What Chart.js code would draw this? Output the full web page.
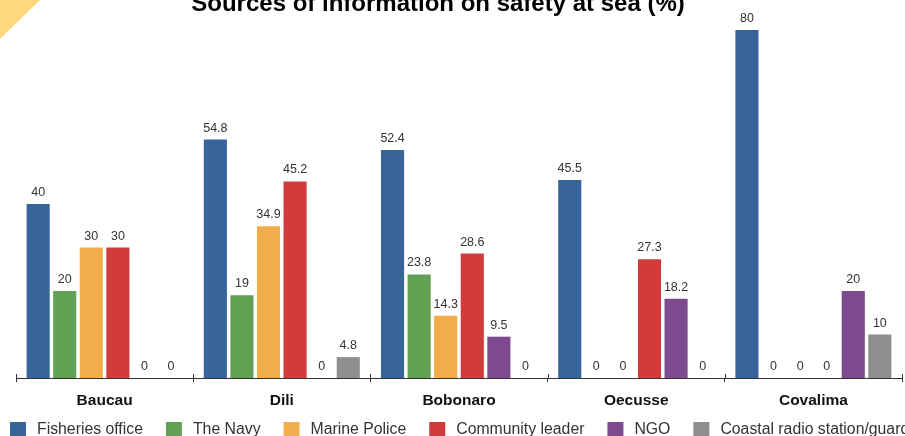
<!DOCTYPE html>
<html>
<head>
<meta charset="utf-8">
<script src="https://cdn.jsdelivr.net/npm/chart.js@4/dist/chart.umd.min.js"></script>
<style>
  html, body { margin: 0; padding: 0; background: #ffffff; overflow: hidden; }
  canvas { display: block; }
</style>
</head>
<body>
<canvas id="chart" width="905" height="436"></canvas>
<script>
// Districts and the share (%) citing each source of safety-at-sea information
const districts = ['Baucau', 'Dili', 'Bobonaro', 'Oecusse', 'Covalima'];
const fisheriesOffice = [40, 54.8, 52.4, 45.5, 80];
const theNavy = [20, 19, 23.8, 0, 0];
const marinePolice = [30, 34.9, 14.3, 0, 0];
const communityLeader = [30, 45.2, 28.6, 27.3, 0];
const ngo = [0, 0, 9.5, 18.2, 20];
const coastalRadio = [0, 4.8, 0, 0, 10];

const sourceNames = ['Fisheries office', 'The Navy', 'Marine Police', 'Community leader', 'NGO', 'Coastal radio station/guard'];
const sourceValues = [fisheriesOffice, theNavy, marinePolice, communityLeader, ngo, coastalRadio];
const sourceColours = ['#37659a', '#62a053', '#f0ad4a', '#d23b3b', '#7e4a8e', '#8e8e8e'];
const chartTitle = 'Sources of information on safety at sea (%)';

const FONT = '"Liberation Sans", Arial, Helvetica, sans-serif';

// Yellow corner ribbon in the top-left
const cornerRibbon = {
  id: 'cornerRibbon',
  beforeDraw(chart) {
    const ctx = chart.ctx;
    ctx.save();
    ctx.fillStyle = '#ffd77c';
    ctx.beginPath();
    ctx.moveTo(0, 0);
    ctx.lineTo(40, 0);
    ctx.lineTo(0, 39);
    ctx.closePath();
    ctx.fill();
    ctx.restore();
  }
};

// Value printed above every bar
const valueLabels = {
  id: 'valueLabels',
  afterDatasetsDraw(chart) {
    const ctx = chart.ctx;
    ctx.save();
    ctx.font = '12.5px ' + FONT;
    ctx.fillStyle = '#333333';
    ctx.textAlign = 'center';
    ctx.textBaseline = 'alphabetic';
    chart.data.datasets.forEach((ds, i) => {
      const meta = chart.getDatasetMeta(i);
      meta.data.forEach((bar, j) => {
        ctx.fillText(String(ds.data[j]), bar.x, bar.y - 8);
      });
    });
    ctx.restore();
  }
};

// Upper half of the category separator ticks on the x axis
const axisTicks = {
  id: 'axisTicks',
  afterDraw(chart) {
    const xs = chart.scales.x;
    const n = chart.data.labels.length;
    const step = (xs.right - xs.left) / n;
    const ctx = chart.ctx;
    ctx.save();
    ctx.strokeStyle = '#333333';
    ctx.lineWidth = 1;
    for (let i = 0; i <= n; i++) {
      const x = Math.round(xs.left + i * step) + 0.5;
      ctx.beginPath();
      ctx.moveTo(x, xs.top - 4);
      ctx.lineTo(x, xs.top);
      ctx.stroke();
    }
    ctx.restore();
  }
};

// Title and single-row legend
const titleAndLegend = {
  id: 'titleAndLegend',
  afterDraw(chart) {
    const ctx = chart.ctx;
    ctx.save();
    ctx.font = 'bold 24px ' + FONT;
    ctx.fillStyle = '#000000';
    ctx.textAlign = 'center';
    ctx.textBaseline = 'alphabetic';
    ctx.fillText(chartTitle, 438, 11);

    ctx.font = '15.8px ' + FONT;
    ctx.textAlign = 'left';
    let x = 10;
    chart.data.datasets.forEach((ds) => {
      ctx.fillStyle = ds.backgroundColor;
      ctx.fillRect(x, 422, 16, 16);
      x += 16 + 11;
      ctx.fillStyle = '#333333';
      ctx.fillText(ds.label, x, 434);
      x += ctx.measureText(ds.label).width + 23;
    });
    ctx.restore();
  }
};

new Chart(document.getElementById('chart'), {
  type: 'bar',
  data: {
    labels: districts,
    datasets: sourceNames.map((name, i) => ({
      label: name,
      data: sourceValues[i],
      backgroundColor: sourceColours[i],
      borderWidth: 0,
      categoryPercentage: 0.9,
      barPercentage: 0.87
    }))
  },
  options: {
    responsive: false,
    animation: false,
    events: [],
    layout: { padding: { left: 16, right: 3, top: 30, bottom: 0 } },
    plugins: {
      legend: { display: false },
      title: { display: false },
      tooltip: { enabled: false }
    },
    scales: {
      x: {
        offset: true,
        grid: { display: true, drawOnChartArea: false, drawTicks: true, tickLength: 4, offset: true, color: '#333333' },
        border: { display: true, color: '#333333', width: 1 },
        ticks: { color: '#111111', padding: 9, font: { family: FONT, size: 15.5, weight: 'bold' } },
        afterFit(scale) { scale.height = 58; }
      },
      y: {
        display: false,
        min: 0,
        max: 80
      }
    }
  },
  plugins: [cornerRibbon, valueLabels, axisTicks, titleAndLegend]
});
</script>
</body>
</html>
